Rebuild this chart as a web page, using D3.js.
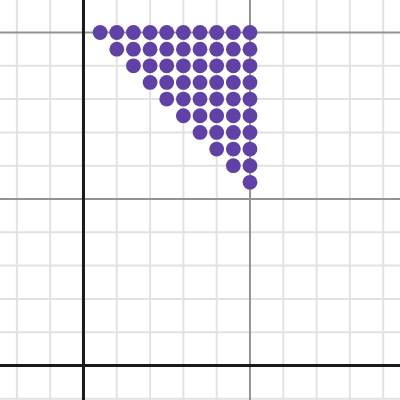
<!DOCTYPE html>
<html>
<head>
<meta charset="utf-8">
<script src="https://cdn.jsdelivr.net/npm/d3@7"></script>
<style>
  html, body { margin: 0; padding: 0; background: #fff; }
  svg { display: block; }
</style>
</head>
<body>
<svg id="graph"></svg>
<script>
// point rows (y value of each row, then the x values in that row)
const rowY = [10, 9.5, 9, 8.5, 8, 7.5, 7, 6.5, 6, 5.5];
const rowX = [
    [0.5, 1, 1.5, 2, 2.5, 3, 3.5, 4, 4.5, 5],
    [1, 1.5, 2, 2.5, 3, 3.5, 4, 4.5, 5],
    [1.5, 2, 2.5, 3, 3.5, 4, 4.5, 5],
    [2, 2.5, 3, 3.5, 4, 4.5, 5],
    [2.5, 3, 3.5, 4, 4.5, 5],
    [3, 3.5, 4, 4.5, 5],
    [3.5, 4, 4.5, 5],
    [4, 4.5, 5],
    [4.5, 5],
    [5]
];

// grid lines
const xGrid = [-2, -1, 1, 2, 3, 4, 5, 6, 7, 8, 9];
const yGrid = [-1, 1, 2, 3, 4, 5, 6, 7, 8, 9, 10];
const majorEvery = 5;

let width = 400;
let height = 400;

let svg = d3.select("#graph")
    .attr("width", width)
    .attr("height", height);

// viewport, about 33.3px per unit
let x = d3.scaleLinear().domain([-2.507, 9.505]).range([0, width]);
let y = d3.scaleLinear().domain([-1.036, 10.976]).range([height, 0]);

let points = [];
rowY.forEach(function (yy, i) {
    rowX[i].forEach(function (xx) {
        points.push({x: xx, y: yy});
    });
});

// minor grid first, then the major lines on top
let minorX = xGrid.filter(d => d % majorEvery !== 0);
let minorY = yGrid.filter(d => d % majorEvery !== 0);
let majorX = xGrid.filter(d => d % majorEvery === 0);
let majorY = yGrid.filter(d => d % majorEvery === 0);

let grid = svg.append("g");

grid.selectAll(".minx").data(minorX).enter().append("line")
    .attr("x1", d => x(d)).attr("x2", d => x(d))
    .attr("y1", 0).attr("y2", height)
    .style("stroke", "#e2e2e2")
    .style("stroke-width", "2px");

grid.selectAll(".miny").data(minorY).enter().append("line")
    .attr("y1", d => y(d)).attr("y2", d => y(d))
    .attr("x1", 0).attr("x2", width)
    .style("stroke", "#e2e2e2")
    .style("stroke-width", "2px");

grid.selectAll(".majx").data(majorX).enter().append("line")
    .attr("x1", d => x(d)).attr("x2", d => x(d))
    .attr("y1", 0).attr("y2", height)
    .style("stroke", "#939393")
    .style("stroke-width", "2px");

grid.selectAll(".majy").data(majorY).enter().append("line")
    .attr("y1", d => y(d)).attr("y2", d => y(d))
    .attr("x1", 0).attr("x2", width)
    .style("stroke", "#939393")
    .style("stroke-width", "2px");

// axes
svg.append("line")
    .attr("x1", x(0)).attr("x2", x(0))
    .attr("y1", 0).attr("y2", height)
    .style("stroke", "#1a1a1a")
    .style("stroke-width", "3px");

svg.append("line")
    .attr("y1", y(0)).attr("y2", y(0))
    .attr("x1", 0).attr("x2", width)
    .style("stroke", "#1a1a1a")
    .style("stroke-width", "3px");

// the dots
svg.append("g").selectAll("circle").data(points).enter().append("circle")
    .attr("cx", d => x(d.x))
    .attr("cy", d => y(d.y))
    .attr("r", 7.4)
    .style("fill", "#6042a6");
</script>
</body>
</html>
